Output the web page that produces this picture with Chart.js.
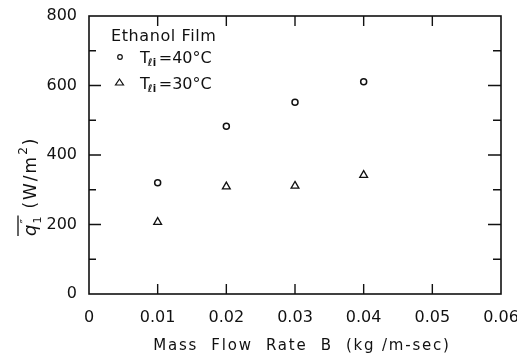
<!DOCTYPE html>
<html>
<head>
<meta charset="utf-8">
<script src="https://cdn.jsdelivr.net/npm/chart.js@4.4.1/dist/chart.umd.min.js"></script>
<style>
  html, body { margin: 0; padding: 0; background: #fff; }
  #wrap { width: 517px; height: 356px; }
</style>
</head>
<body>
<div id="wrap"><canvas id="c" width="517" height="356"></canvas></div>
<script>
// Mass flow rate B (kg/m-sec) and mean heat flux (W/m^2), ethanol film
const flowRates = [0.01, 0.02, 0.03, 0.04];
const heatFlux40 = [320, 483, 552, 611];
const heatFlux30 = [207, 309, 311, 342];
const xTicks = [0, 0.01, 0.02, 0.03, 0.04, 0.05, 0.06];
const yTicks = [0, 200, 400, 600, 800];
const yMinorTicks = [100, 300, 500, 700];

const FONT = '"DejaVu Sans", sans-serif';
const INK = '#111';

function toPoints(xs, ys) { return xs.map((x, i) => ({ x: x, y: ys[i] })); }

// Frame, inward tick marks, legend and axis titles
const decorations = {
  id: 'decorations',
  afterDraw(chart) {
    const ctx = chart.ctx;
    const a = chart.chartArea;
    const xs = chart.scales.x, ys = chart.scales.y;
    ctx.save();
    ctx.strokeStyle = INK;
    ctx.lineWidth = 1.6;
    ctx.strokeRect(a.left, a.top, a.right - a.left, a.bottom - a.top);

    ctx.lineWidth = 1.4;
    ctx.beginPath();
    xTicks.slice(1, -1).forEach(v => {
      const px = xs.getPixelForValue(v);
      ctx.moveTo(px, a.bottom); ctx.lineTo(px, a.bottom - 10);
      ctx.moveTo(px, a.top); ctx.lineTo(px, a.top + 10);
    });
    yTicks.slice(1, -1).forEach(v => {
      const py = ys.getPixelForValue(v);
      ctx.moveTo(a.left, py); ctx.lineTo(a.left + 12, py);
      ctx.moveTo(a.right, py); ctx.lineTo(a.right - 13, py);
    });
    yMinorTicks.forEach(v => {
      const py = ys.getPixelForValue(v);
      ctx.moveTo(a.left, py); ctx.lineTo(a.left + 7, py);
      ctx.moveTo(a.right, py); ctx.lineTo(a.right - 8, py);
    });
    ctx.stroke();

    // legend
    ctx.fillStyle = INK;
    ctx.textBaseline = 'alphabetic';
    ctx.textAlign = 'left';
    ctx.font = '16px ' + FONT;
    ctx.letterSpacing = '0.6px';
    ctx.fillText('Ethanol Film', 111, 41);
    ctx.letterSpacing = '0px';

    ctx.lineWidth = 1.2;
    ctx.beginPath();
    ctx.arc(120, 57, 2.3, 0, Math.PI * 2);
    ctx.stroke();
    ctx.beginPath();
    ctx.moveTo(119.5, 79); ctx.lineTo(123.5, 85); ctx.lineTo(115.5, 85); ctx.closePath();
    ctx.stroke();

    function tempLabel(x, yb, t) {
      ctx.font = '16px ' + FONT;
      ctx.fillText('T', x, yb);
      let w = ctx.measureText('T').width;
      ctx.font = 'italic bold 10px ' + FONT;
      ctx.fillText('\u2113', x + w - 2, yb + 3);
      ctx.font = 'bold 10px ' + FONT;
      ctx.fillText('i', x + w + 3, yb + 3);
      ctx.font = '16px ' + FONT;
      ctx.fillText('=' + t + '\u00B0C', x + w + 9, yb);
    }
    tempLabel(140, 63, '40');
    tempLabel(140, 89, '30');

    // x title
    ctx.font = '15px ' + FONT;
    ctx.letterSpacing = '1.8px';
    ctx.textAlign = 'center';
    ctx.fillText('Mass  Flow  Rate  B  (kg /m-sec)', 302, 350);
    ctx.letterSpacing = '0px';

    // y title, rotated
    ctx.translate(36, 236);
    ctx.rotate(-Math.PI / 2);
    ctx.textAlign = 'left';
    ctx.font = 'italic 18px ' + FONT;
    ctx.fillText('q', 0, 0);
    const qw = ctx.measureText('q').width;
    ctx.lineWidth = 1.3;
    ctx.beginPath();
    ctx.moveTo(0, -18); ctx.lineTo(qw + 9, -18);
    ctx.stroke();
    ctx.font = '12px ' + FONT;
    ctx.fillText('\u2033', qw + 1, -7);
    ctx.font = '11px ' + FONT;
    ctx.fillText('1', qw + 1, 5);
    let x = qw + 16;
    ctx.font = '17px ' + FONT;
    ctx.letterSpacing = '2px';
    ctx.fillText('(W/m', x, 0);
    x += ctx.measureText('(W/m').width;
    ctx.letterSpacing = '0px';
    ctx.font = '12px ' + FONT;
    ctx.fillText('2', x, -9);
    x += ctx.measureText('2').width + 2;
    ctx.font = '17px ' + FONT;
    ctx.fillText(')', x, 0);
    ctx.restore();
  }
};

new Chart(document.getElementById('c'), {
  type: 'scatter',
  data: {
    datasets: [
      {
        label: 'T\u2113i = 40\u00B0C',
        data: toPoints(flowRates, heatFlux40),
        pointStyle: 'circle',
        pointRadius: 3,
        pointBorderWidth: 1.5,
        borderColor: INK,
        backgroundColor: 'rgba(0,0,0,0)'
      },
      {
        label: 'T\u2113i = 30\u00B0C',
        data: toPoints(flowRates, heatFlux30),
        pointStyle: 'triangle',
        pointRadius: 4.5,
        pointBorderWidth: 1.3,
        borderColor: INK,
        backgroundColor: 'rgba(0,0,0,0)'
      }
    ]
  },
  options: {
    responsive: false,
    animation: false,
    layout: { padding: { left: 0, right: 16, top: 16, bottom: 0 } },
    plugins: { legend: { display: false }, tooltip: { enabled: false } },
    scales: {
      x: {
        type: 'linear',
        min: 0, max: 0.06,
        afterBuildTicks(scale) { scale.ticks = xTicks.map(v => ({ value: v })); },
        afterFit(scale) {
          scale.height = 62;
          scale.paddingLeft = 0;
          scale.paddingRight = 0;
        },
        grid: { display: false },
        border: { display: false },
        ticks: {
          color: INK,
          font: { family: FONT, size: 16 },
          padding: 6,
          maxRotation: 0,
          callback: v => v === 0 ? '0' : v.toFixed(2)
        }
      },
      y: {
        type: 'linear',
        min: 0, max: 800,
        afterBuildTicks(scale) { scale.ticks = yTicks.map(v => ({ value: v })); },
        afterFit(scale) {
          scale.width = 89;
          scale.paddingTop = 0;
          scale.paddingBottom = 0;
        },
        grid: { display: false },
        border: { display: false },
        ticks: {
          color: INK,
          font: { family: FONT, size: 16 },
          padding: 4
        }
      }
    }
  },
  plugins: [decorations]
});
</script>
</body>
</html>
